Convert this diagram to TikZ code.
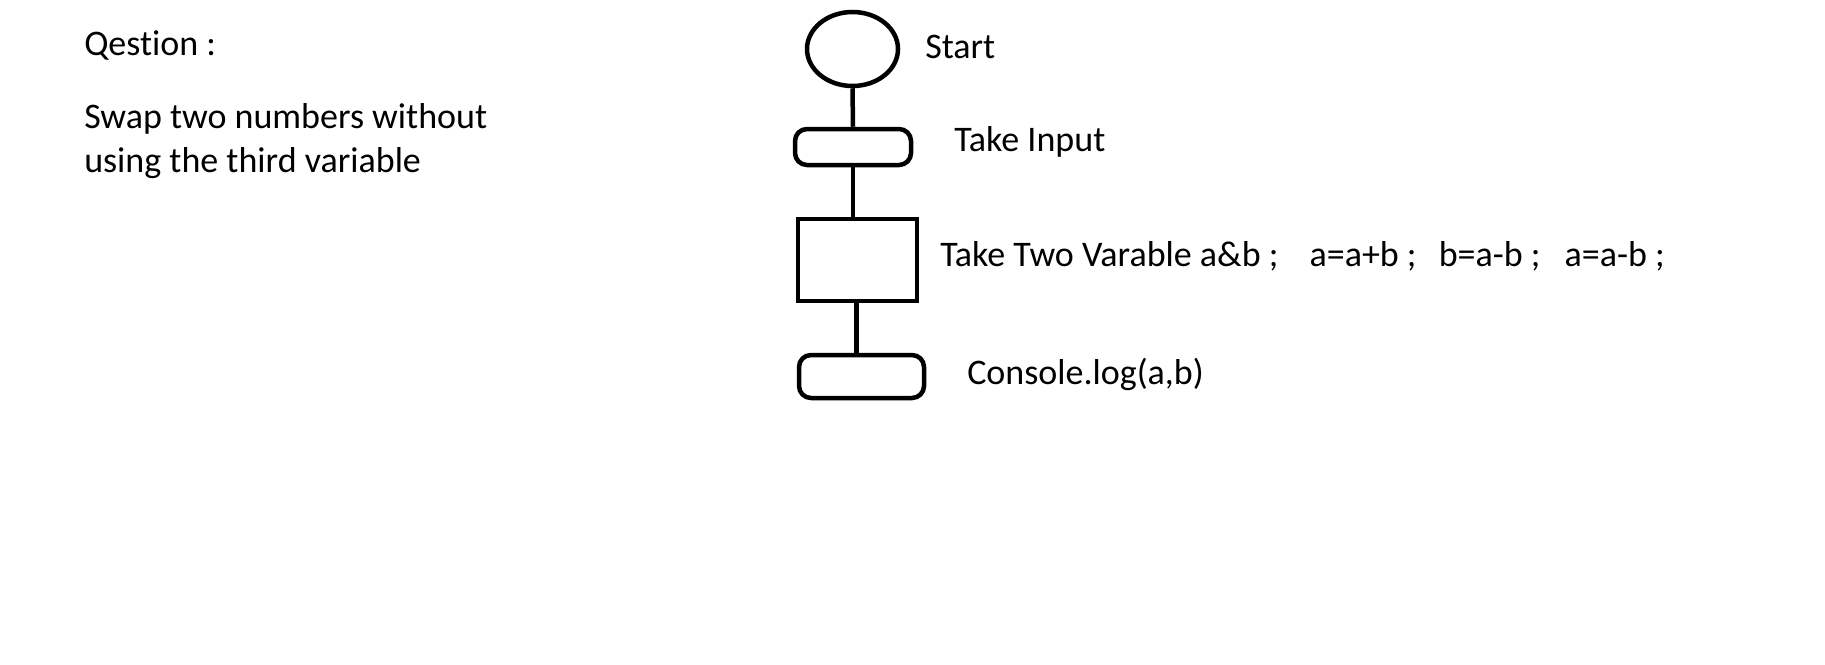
\documentclass[tikz,border=0pt]{standalone}
\usepackage{fontspec}
\setmainfont[Ligatures=NoCommon]{Carlito}
\usetikzlibrary{shapes.geometric}
\begin{document}
\begin{tikzpicture}[x=1pt,y=-1pt,line width=4.5pt,
  lbl/.style={anchor=base west,inner sep=0pt,font=\fontsize{36}{44}\selectfont},
  term/.style={draw,rounded corners=12pt,inner sep=0pt},
  proc/.style={draw,inner sep=0pt},
  conn/.style={draw,line width=4.5pt}]
\useasboundingbox[fill=white] (0,0) rectangle (1825,664);
\node[lbl] (q) at (82,55) {Qestion :};
\node[lbl] (qt1) at (82,128) {Swap two numbers without};
\node[lbl] (qt2) at (82,172) {using the third variable};
\node[draw,ellipse,inner sep=0pt,minimum width=91pt,minimum height=74pt] (start) at (852.5,49) {};
\node[term,minimum width=116pt,minimum height=36pt] (input) at (853,147) {};
\node[proc,minimum width=119pt,minimum height=82pt] (calc) at (857.5,260) {};
\node[term,minimum width=125pt,minimum height=43pt] (out) at (861.5,376.5) {};
\node[lbl] (ls) at (923,58) {Start};
\node[lbl] (li) at (952,151) {Take Input};
\node[lbl] (lc) at (938,266) {Take Two Varable a\&b ;\hspace{23pt} a=a+b ;\hspace{14pt} b=a-b ;\hspace{16pt} a=a-b ;};
\node[lbl] (lo) at (965,384) {Console.log(a,b)};
\draw[conn] (start.south) -- (input.north);
\draw[conn] (input.south) -- (input.south |- calc.north);
\draw[conn] ([xshift=-1pt]calc.south) -- ([xshift=-1pt]calc.south |- out.north);
\end{tikzpicture}
\end{document}
